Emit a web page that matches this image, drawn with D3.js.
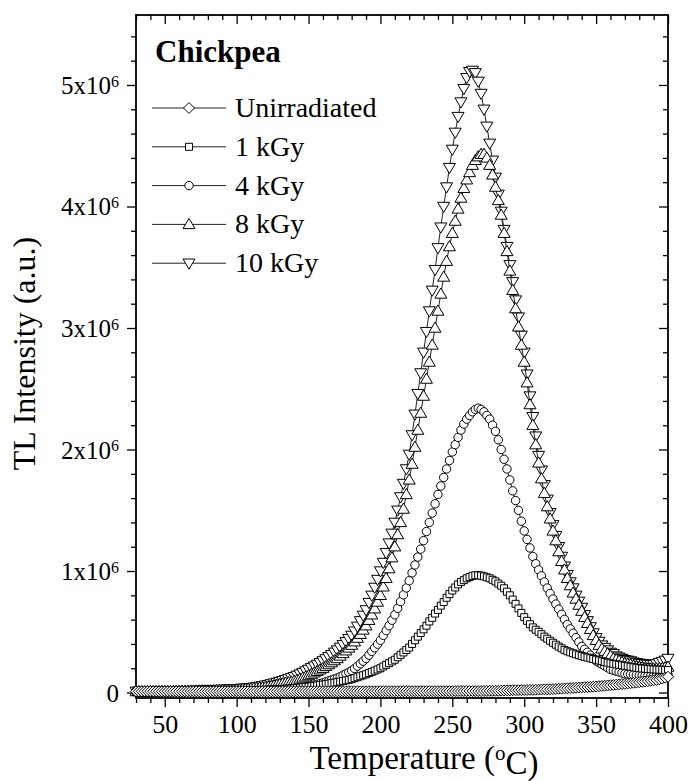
<!DOCTYPE html>
<html>
<head>
<meta charset="utf-8">
<script src="https://cdn.jsdelivr.net/npm/d3@7"></script>
<style>
  body { margin: 0; background: #fff; }
  svg { display: block; }
  text { font-family: "Liberation Serif", "Times New Roman", serif; fill: #000; }
</style>
</head>
<body>
<svg id="chart" width="690" height="781"></svg>
<script>
// Glow-curve temperatures (°C)
const temperature = [
  30,32,34,36,38,40,42,44,46,48,
  50,52,54,56,58,60,62,64,66,68,
  70,72,74,76,78,80,82,84,86,88,
  90,92,94,96,98,100,102,104,106,108,
  110,112,114,116,118,120,122,124,126,128,
  130,132,134,136,138,140,142,144,146,148,
  150,152,154,156,158,160,162,164,166,168,
  170,172,174,176,178,180,182,184,186,188,
  190,192,194,196,198,200,202,204,206,208,
  210,212,214,216,218,220,222,224,226,228,
  230,232,234,236,238,240,242,244,246,248,
  250,252,254,256,258,260,262,264,266,268,
  270,272,274,276,278,280,282,284,286,288,
  290,292,294,296,298,300,302,304,306,308,
  310,312,314,316,318,320,322,324,326,328,
  330,332,334,336,338,340,342,344,346,348,
  350,352,354,356,358,360,362,364,366,368,
  370,372,374,376,378,380,382,384,386,388,
  390,392,394,396,398,400
];

// TL intensity, in units of 10^6 a.u.
const unirradiated = [
  0.010,0.010,0.010,0.010,0.010,0.010,0.010,0.010,0.010,0.010,
  0.010,0.010,0.010,0.010,0.010,0.010,0.010,0.010,0.010,0.010,
  0.010,0.010,0.010,0.010,0.010,0.010,0.010,0.010,0.010,0.010,
  0.010,0.010,0.010,0.010,0.010,0.010,0.010,0.010,0.010,0.010,
  0.010,0.010,0.010,0.010,0.010,0.010,0.010,0.010,0.010,0.010,
  0.010,0.010,0.010,0.010,0.010,0.010,0.010,0.010,0.010,0.010,
  0.010,0.010,0.010,0.010,0.010,0.010,0.010,0.010,0.010,0.010,
  0.010,0.010,0.010,0.010,0.010,0.010,0.010,0.010,0.010,0.010,
  0.010,0.010,0.010,0.010,0.010,0.011,0.011,0.011,0.011,0.011,
  0.011,0.011,0.011,0.011,0.011,0.011,0.011,0.011,0.011,0.011,
  0.011,0.011,0.011,0.011,0.011,0.011,0.011,0.011,0.011,0.011,
  0.011,0.012,0.012,0.012,0.012,0.012,0.012,0.012,0.012,0.012,
  0.012,0.013,0.013,0.014,0.014,0.015,0.015,0.016,0.017,0.018,
  0.018,0.019,0.019,0.019,0.020,0.020,0.021,0.022,0.022,0.023,
  0.024,0.025,0.026,0.026,0.027,0.028,0.029,0.031,0.032,0.034,
  0.035,0.036,0.038,0.039,0.041,0.042,0.044,0.045,0.047,0.048,
  0.050,0.052,0.054,0.056,0.058,0.060,0.062,0.065,0.067,0.070,
  0.072,0.075,0.077,0.080,0.082,0.085,0.088,0.091,0.094,0.097,
  0.100,0.104,0.109,0.115,0.122,0.130
];

const dose1kGy = [
  0.005,0.005,0.005,0.005,0.005,0.005,0.005,0.005,0.006,0.006,
  0.006,0.006,0.006,0.006,0.006,0.007,0.007,0.007,0.007,0.007,
  0.007,0.008,0.008,0.008,0.008,0.008,0.008,0.009,0.009,0.009,
  0.009,0.009,0.009,0.010,0.010,0.010,0.011,0.012,0.012,0.013,
  0.014,0.015,0.016,0.016,0.017,0.018,0.020,0.021,0.023,0.025,
  0.026,0.028,0.030,0.031,0.033,0.035,0.038,0.040,0.043,0.045,
  0.048,0.051,0.055,0.058,0.062,0.065,0.069,0.073,0.077,0.081,
  0.085,0.090,0.095,0.100,0.105,0.110,0.118,0.126,0.134,0.142,
  0.150,0.160,0.170,0.180,0.190,0.200,0.214,0.228,0.242,0.256,
  0.270,0.290,0.310,0.330,0.350,0.370,0.400,0.430,0.460,0.490,
  0.520,0.550,0.585,0.615,0.650,0.680,0.715,0.745,0.780,0.810,
  0.840,0.865,0.890,0.910,0.925,0.940,0.950,0.960,0.965,0.965,
  0.962,0.956,0.948,0.940,0.928,0.915,0.897,0.879,0.858,0.830,
  0.800,0.765,0.730,0.692,0.655,0.620,0.590,0.562,0.536,0.517,
  0.500,0.480,0.460,0.443,0.426,0.410,0.394,0.378,0.364,0.351,
  0.340,0.331,0.323,0.315,0.307,0.300,0.294,0.288,0.282,0.276,
  0.270,0.264,0.258,0.252,0.246,0.240,0.236,0.232,0.228,0.224,
  0.220,0.216,0.212,0.208,0.204,0.200,0.198,0.196,0.194,0.192,
  0.190,0.189,0.188,0.187,0.186,0.185
];

const dose4kGy = [
  0.005,0.005,0.005,0.005,0.005,0.005,0.005,0.006,0.006,0.006,
  0.006,0.006,0.006,0.007,0.007,0.007,0.007,0.007,0.008,0.008,
  0.008,0.008,0.008,0.009,0.009,0.009,0.009,0.009,0.010,0.010,
  0.010,0.010,0.010,0.010,0.010,0.010,0.011,0.012,0.013,0.014,
  0.015,0.016,0.017,0.018,0.019,0.020,0.021,0.022,0.023,0.024,
  0.025,0.026,0.027,0.028,0.029,0.030,0.034,0.038,0.042,0.046,
  0.050,0.056,0.062,0.068,0.074,0.080,0.088,0.096,0.104,0.112,
  0.120,0.131,0.143,0.155,0.167,0.180,0.198,0.217,0.237,0.258,
  0.280,0.308,0.338,0.368,0.398,0.430,0.470,0.510,0.550,0.595,
  0.640,0.693,0.748,0.804,0.861,0.920,0.985,1.050,1.115,1.180,
  1.250,1.325,1.400,1.477,1.553,1.630,1.700,1.770,1.840,1.910,
  1.980,2.040,2.100,2.160,2.210,2.250,2.280,2.310,2.330,2.340,
  2.330,2.310,2.280,2.250,2.200,2.150,2.080,2.000,1.920,1.840,
  1.750,1.660,1.580,1.500,1.410,1.330,1.260,1.190,1.120,1.060,
  1.010,0.960,0.910,0.860,0.815,0.770,0.728,0.686,0.644,0.602,
  0.560,0.524,0.488,0.452,0.416,0.380,0.356,0.332,0.308,0.284,
  0.260,0.246,0.232,0.218,0.204,0.190,0.183,0.176,0.169,0.162,
  0.155,0.152,0.149,0.146,0.143,0.140,0.140,0.139,0.139,0.138,
  0.138,0.139,0.140,0.141,0.143,0.145
];

const dose8kGy = [
  0.008,0.008,0.008,0.008,0.008,0.009,0.009,0.009,0.009,0.010,
  0.010,0.010,0.010,0.011,0.011,0.011,0.012,0.012,0.012,0.013,
  0.013,0.014,0.014,0.015,0.015,0.016,0.016,0.017,0.018,0.018,
  0.019,0.019,0.020,0.021,0.021,0.022,0.024,0.026,0.028,0.030,
  0.032,0.034,0.036,0.038,0.040,0.043,0.047,0.052,0.057,0.062,
  0.068,0.073,0.078,0.083,0.088,0.094,0.103,0.112,0.121,0.130,
  0.140,0.151,0.163,0.175,0.187,0.200,0.215,0.230,0.246,0.263,
  0.280,0.301,0.322,0.344,0.367,0.390,0.418,0.448,0.480,0.515,
  0.550,0.595,0.640,0.690,0.745,0.800,0.870,0.940,1.020,1.110,
  1.200,1.300,1.400,1.510,1.630,1.750,1.880,2.020,2.160,2.300,
  2.440,2.580,2.720,2.860,3.000,3.140,3.280,3.420,3.550,3.670,
  3.780,3.880,3.980,4.070,4.150,4.220,4.280,4.340,4.380,4.410,
  4.430,4.430,4.400,4.340,4.260,4.160,4.050,3.930,3.780,3.630,
  3.470,3.310,3.160,3.010,2.860,2.720,2.550,2.370,2.200,2.040,
  1.890,1.760,1.640,1.530,1.430,1.330,1.250,1.160,1.080,1.010,
  0.940,0.880,0.820,0.770,0.720,0.670,0.620,0.570,0.520,0.470,
  0.430,0.390,0.360,0.340,0.320,0.300,0.280,0.270,0.260,0.250,
  0.240,0.235,0.230,0.220,0.215,0.210,0.205,0.200,0.197,0.195,
  0.195,0.196,0.198,0.200,0.205,0.210
];

const dose10kGy = [
  0.010,0.010,0.010,0.010,0.010,0.010,0.011,0.011,0.011,0.012,
  0.012,0.012,0.013,0.013,0.014,0.014,0.014,0.015,0.015,0.016,
  0.016,0.017,0.018,0.019,0.019,0.020,0.021,0.022,0.023,0.024,
  0.025,0.026,0.027,0.028,0.029,0.030,0.032,0.034,0.036,0.038,
  0.040,0.043,0.047,0.051,0.055,0.060,0.065,0.071,0.077,0.083,
  0.090,0.097,0.105,0.113,0.121,0.130,0.141,0.152,0.164,0.177,
  0.190,0.204,0.217,0.231,0.245,0.260,0.277,0.294,0.312,0.331,
  0.350,0.372,0.394,0.418,0.443,0.470,0.505,0.545,0.590,0.635,
  0.680,0.740,0.800,0.865,0.930,1.000,1.070,1.150,1.230,1.310,
  1.400,1.500,1.610,1.720,1.840,1.960,2.120,2.290,2.460,2.630,
  2.800,2.970,3.140,3.310,3.480,3.660,3.830,4.000,4.160,4.320,
  4.470,4.610,4.740,4.860,4.970,5.060,5.110,5.120,5.100,5.030,
  4.930,4.800,4.660,4.520,4.380,4.240,4.100,3.960,3.810,3.670,
  3.520,3.380,3.230,3.090,2.940,2.800,2.620,2.440,2.270,2.110,
  1.950,1.830,1.710,1.590,1.480,1.380,1.290,1.200,1.120,1.040,
  0.970,0.910,0.860,0.800,0.750,0.700,0.640,0.590,0.540,0.490,
  0.450,0.420,0.390,0.370,0.350,0.330,0.320,0.300,0.290,0.280,
  0.270,0.265,0.260,0.250,0.245,0.240,0.237,0.234,0.232,0.230,
  0.230,0.235,0.245,0.255,0.265,0.280
];

const seriesNames = ["Unirradiated", "1 kGy", "4 kGy", "8 kGy", "10 kGy"];
const seriesSymbols = ["diamond", "square", "circle", "triangleUp", "triangleDown"];
const seriesValues = [unirradiated, dose1kGy, dose4kGy, dose8kGy, dose10kGy];

const xMajorTicks = [50, 100, 150, 200, 250, 300, 350, 400];
const xMinorTicks = [30, 40, 60, 70, 80, 90, 110, 120, 130, 140, 160, 170, 180, 190,
                     210, 220, 230, 240, 260, 270, 280, 290, 310, 320, 330, 340, 360, 370, 380, 390];
const yMajorTicks = [0, 1, 2, 3, 4, 5];
const yMinorTicks = [0.2, 0.4, 0.6, 0.8, 1.2, 1.4, 1.6, 1.8, 2.2, 2.4, 2.6, 2.8,
                     3.2, 3.4, 3.6, 3.8, 4.2, 4.4, 4.6, 4.8, 5.2, 5.4];
const yTickMantissa = ["0", "1x10", "2x10", "3x10", "4x10", "5x10"];
const yTickExponent = "6";

const plot = { left: 136, right: 668, top: 15, bottom: 698 };
const svg = d3.select("#chart");

const x = d3.scaleLinear().domain([30, 400]).range([plot.left, plot.right]);
const y = d3.scaleLinear().domain([-0.045, 5.576]).range([plot.bottom, plot.top]);

const majorLen = 9, minorLen = 5;

function styleAxis(g) {
  g.select(".domain").remove();
  g.selectAll(".tick line").attr("stroke", "#000").attr("stroke-width", 1.3);
}

// bottom axis: ticks outward, labelled
svg.append("g").attr("transform", `translate(0,${plot.bottom})`)
  .call(d3.axisBottom(x).tickValues(xMajorTicks).tickSize(majorLen).tickPadding(8).tickFormat(d3.format("d")))
  .call(styleAxis)
  .attr("font-size", 26);
svg.append("g").attr("transform", `translate(0,${plot.bottom})`)
  .call(d3.axisBottom(x).tickValues(xMinorTicks).tickSize(minorLen).tickFormat(""))
  .call(styleAxis);

// top axis: ticks inward
svg.append("g").attr("transform", `translate(0,${plot.top})`)
  .call(d3.axisTop(x).tickValues(xMajorTicks).tickSize(-majorLen).tickFormat(""))
  .call(styleAxis);
svg.append("g").attr("transform", `translate(0,${plot.top})`)
  .call(d3.axisTop(x).tickValues(xMinorTicks).tickSize(-minorLen).tickFormat(""))
  .call(styleAxis);

// left axis: ticks outward, labelled with powers of ten
const leftAxis = svg.append("g").attr("transform", `translate(${plot.left},0)`)
  .call(d3.axisLeft(y).tickValues(yMajorTicks).tickSize(majorLen).tickPadding(8).tickFormat(""))
  .call(styleAxis)
  .attr("font-size", 25);
leftAxis.selectAll(".tick text").each(function (d, i) {
  const t = d3.select(this).attr("dy", "0.34em");
  t.append("tspan").text(yTickMantissa[i]);
  if (d !== 0) {
    t.append("tspan").attr("dy", "-0.45em").attr("font-size", 16).text(yTickExponent);
  }
});
svg.append("g").attr("transform", `translate(${plot.left},0)`)
  .call(d3.axisLeft(y).tickValues(yMinorTicks).tickSize(minorLen).tickFormat(""))
  .call(styleAxis);

// right axis: ticks inward
svg.append("g").attr("transform", `translate(${plot.right},0)`)
  .call(d3.axisRight(y).tickValues(yMajorTicks).tickSize(-majorLen).tickFormat(""))
  .call(styleAxis);
svg.append("g").attr("transform", `translate(${plot.right},0)`)
  .call(d3.axisRight(y).tickValues(yMinorTicks).tickSize(-minorLen).tickFormat(""))
  .call(styleAxis);

// frame
svg.append("rect")
  .attr("x", plot.left).attr("y", plot.top)
  .attr("width", plot.right - plot.left).attr("height", plot.bottom - plot.top)
  .attr("fill", "none").attr("stroke", "#000").attr("stroke-width", 1.8);

// marker shapes
const symbolPath = {
  diamond: "M0,-5.5L5.5,0L0,5.5L-5.5,0Z",
  square: "M-3.5,-3.5H3.5V3.5H-3.5Z",
  circle: "M4.2,0A4.2,4.2 0 1 1 -4.2,0A4.2,4.2 0 1 1 4.2,0Z",
  triangleUp: "M0,-6L6,4.2L-6,4.2Z",
  triangleDown: "M0,6L6,-4.2L-6,-4.2Z"
};

const line = d3.line().x(d => x(d[0])).y(d => y(d[1]));
const dataLayer = svg.append("g");

// higher doses first, unirradiated on top
for (let s = seriesNames.length - 1; s >= 0; s--) {
  const pts = temperature.map((t, i) => [t, seriesValues[s][i]]);
  const g = dataLayer.append("g");
  g.append("path").datum(pts).attr("d", line)
    .attr("fill", "none").attr("stroke", "#222").attr("stroke-width", 1);
  g.selectAll("path.m").data(pts).join("path").attr("class", "m")
    .attr("transform", d => `translate(${x(d[0])},${y(d[1])})`)
    .attr("d", symbolPath[seriesSymbols[s]])
    .attr("fill", "#fff").attr("stroke", "#000").attr("stroke-width", 1);
}

// legend
svg.append("text").attr("x", 155).attr("y", 62)
  .attr("font-size", 31).attr("font-weight", "bold").text("Chickpea");

const legend = svg.append("g");
seriesNames.forEach((name, i) => {
  const cy = 108 + i * 38.8;
  const row = legend.append("g").attr("transform", `translate(0,${cy})`);
  row.append("line").attr("x1", 152).attr("x2", 226).attr("y1", 0).attr("y2", 0)
    .attr("stroke", "#222").attr("stroke-width", 1);
  row.append("path").attr("transform", "translate(189,0)")
    .attr("d", symbolPath[seriesSymbols[i]])
    .attr("fill", "#fff").attr("stroke", "#000").attr("stroke-width", 1);
  row.append("text").attr("x", 235).attr("y", 9).attr("font-size", 28).text(name);
});

// axis titles
const xTitle = svg.append("text")
  .attr("x", 424).attr("y", 769)
  .attr("text-anchor", "middle").attr("font-size", 33);
xTitle.append("tspan").text("Temperature (");
xTitle.append("tspan").attr("dy", "-0.42em").attr("font-size", 21).text("o");
xTitle.append("tspan").attr("dy", "0.42em").text("C)");

svg.append("text")
  .attr("transform", `translate(35,${(plot.top + plot.bottom) / 2 - 3}) rotate(-90)`)
  .attr("text-anchor", "middle").attr("font-size", 32)
  .text("TL Intensity (a.u.)");
</script>
</body>
</html>
